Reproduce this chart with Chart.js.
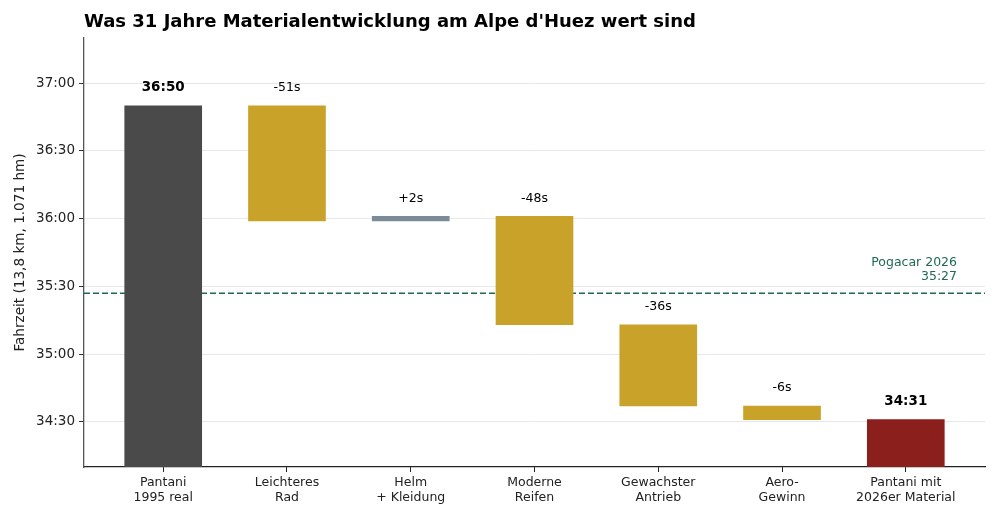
<!DOCTYPE html>
<html>
<head>
<meta charset="utf-8">
<script src="https://cdn.jsdelivr.net/npm/chart.js@4.4.1/dist/chart.umd.min.js"></script>
<style>
  html, body { margin: 0; padding: 0; background: #fff; }
</style>
</head>
<body>
<canvas id="myChart" width="1000" height="520"></canvas>
<script>
// ---- Daten (Zeiten in Sekunden) ----
const kategorien = [
  ["Pantani", "1995 real"],
  ["Leichteres", "Rad"],
  ["Helm", "+ Kleidung"],
  ["Moderne", "Reifen"],
  ["Gewachster", "Antrieb"],
  ["Aero-", "Gewinn"],
  ["Pantani mit", "2026er Material"]
];
const startZeit = 2210;              // 36:50
const deltas = [-51, 2, -48, -36, -6]; // Sekunden je Schritt
const pogacarZeit = 2127;            // 35:27
const pogacarText = ["Pogacar 2026", "35:27"];
const yTicks = [2070, 2100, 2130, 2160, 2190, 2220];
const yMin = 2050;
const yMax = 2240;
const xMin = -0.64;
const xMax = 6.64;

const farben = {
  start: "#4a4a4a",
  minus: "#c9a22a",
  plus: "#7d8a98",
  ende: "#8b1f1c"
};

function mmss(sek) {
  const m = Math.floor(sek / 60);
  const s = Math.round(sek - m * 60);
  return m + ":" + String(s).padStart(2, "0");
}

// ---- Wasserfall aufbauen ----
const balken = [];
const balkenFarben = [];
const balkenLabels = [];
balken.push({ x: 0, y: [yMin, startZeit] });
balkenFarben.push(farben.start);
balkenLabels.push({ text: mmss(startZeit), bold: true });
let laufend = startZeit;
deltas.forEach((d, i) => {
  const neu = laufend + d;
  balken.push({ x: i + 1, y: [Math.min(laufend, neu), Math.max(laufend, neu)] });
  balkenFarben.push(d < 0 ? farben.minus : farben.plus);
  balkenLabels.push({ text: (d > 0 ? "+" : "") + d + "s", bold: false });
  laufend = neu;
});
balken.push({ x: kategorien.length - 1, y: [yMin, laufend] });
balkenFarben.push(farben.ende);
balkenLabels.push({ text: mmss(laufend), bold: true });

const FONT = "'DejaVu Sans', sans-serif";

// Titel links am Plotbereich
const titelPlugin = {
  id: "titel",
  afterDraw(chart) {
    const ctx = chart.ctx;
    ctx.save();
    ctx.font = "bold 18px " + FONT;
    ctx.fillStyle = "#000";
    ctx.textAlign = "left";
    ctx.textBaseline = "middle";
    ctx.fillText("Was 31 Jahre Materialentwicklung am Alpe d'Huez wert sind", chart.chartArea.left, 22);
    ctx.restore();
  }
};

// Beschriftung der Pogacar-Linie
const pogacarPlugin = {
  id: "pogacar",
  afterDraw(chart) {
    const ctx = chart.ctx;
    const y = chart.scales.y.getPixelForValue(pogacarZeit);
    ctx.save();
    ctx.font = "12.5px " + FONT;
    ctx.fillStyle = "#1f6b50";
    ctx.textAlign = "right";
    ctx.textBaseline = "middle";
    ctx.fillText(pogacarText[0], 957, y - 30);
    ctx.fillText(pogacarText[1], 957, y - 16);
    ctx.restore();
  }
};

// Werte über den Balken
const labelPlugin = {
  id: "balkenLabels",
  afterDatasetsDraw(chart) {
    const ctx = chart.ctx;
    const meta = chart.getDatasetMeta(0);
    ctx.save();
    ctx.textAlign = "center";
    ctx.textBaseline = "middle";
    ctx.fillStyle = "#000";
    meta.data.forEach((bar, i) => {
      const l = balkenLabels[i];
      ctx.font = (l.bold ? "bold 13.5px " : "12.5px ") + FONT;
      const top = Math.min(bar.y, bar.base);
      ctx.fillText(l.text, bar.x, top - 18);
    });
    ctx.restore();
  }
};

new Chart(document.getElementById("myChart"), {
  type: "bar",
  data: {
    datasets: [{
      data: balken,
      backgroundColor: balkenFarben,
      borderWidth: 0,
      barThickness: 77,
      order: 1
    }, {
      // Pogacar-Referenzlinie, hinter den Balken
      type: "line",
      data: [{ x: xMin, y: pogacarZeit }, { x: xMax, y: pogacarZeit }],
      borderColor: "#1f6b50",
      borderWidth: 1.5,
      borderDash: [6, 3],
      pointRadius: 0,
      fill: false,
      order: 2
    }]
  },
  options: {
    responsive: false,
    animation: false,
    layout: { padding: { top: 38, right: 15, left: 0, bottom: 0 } },
    plugins: {
      legend: { display: false },
      tooltip: { enabled: false }
    },
    scales: {
      x: {
        type: "linear",
        offset: false,
        min: xMin,
        max: xMax,
        afterBuildTicks(scale) {
          scale.ticks = kategorien.map((k, i) => ({ value: i }));
        },
        afterFit(scale) { scale.height = 53; },
        grid: {
          offset: false,
          drawOnChartArea: false,
          drawTicks: true,
          tickLength: 5,
          tickColor: "#222"
        },
        border: { color: "#222", width: 1.2 },
        ticks: {
          autoSkip: false,
          maxRotation: 0,
          padding: 4,
          color: "#222",
          font: { family: FONT, size: 12.5, lineHeight: 1.15 },
          callback: (v) => kategorien[v]
        }
      },
      y: {
        min: yMin,
        max: yMax,
        afterBuildTicks(scale) {
          scale.ticks = yTicks.map((v) => ({ value: v }));
        },
        afterFit(scale) { scale.width = 84; },
        grid: {
          color: "#e8e8e8",
          lineWidth: 1,
          drawTicks: true,
          tickLength: 5,
          tickColor: "#333"
        },
        border: { color: "#555", width: 1.3 },
        ticks: {
          padding: 4,
          color: "#222",
          font: { family: FONT, size: 13.5 },
          callback: (v) => mmss(v)
        },
        title: {
          display: true,
          text: "Fahrzeit (13,8 km, 1.071 hm)",
          color: "#222",
          font: { family: FONT, size: 13.6 },
          padding: { top: 12, bottom: 0 }
        }
      }
    }
  },
  plugins: [titelPlugin, pogacarPlugin, labelPlugin]
});
</script>
</body>
</html>
